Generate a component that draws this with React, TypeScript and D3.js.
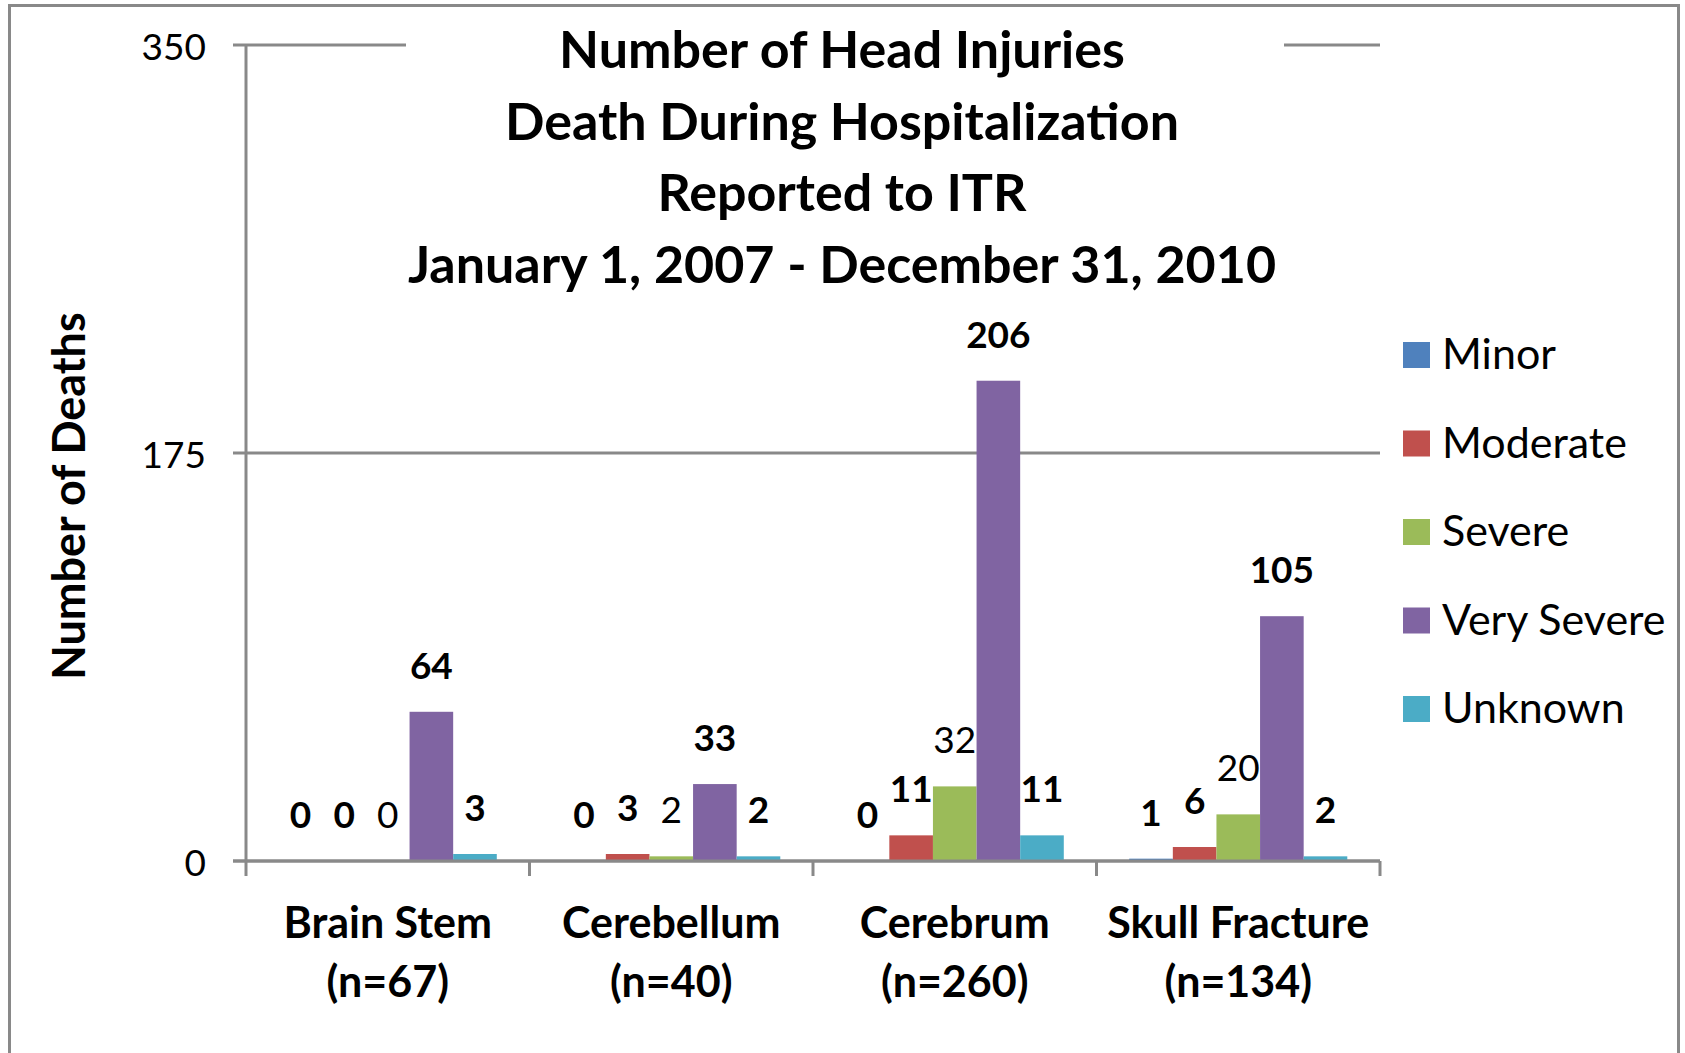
import React from 'react';
import { scaleBand, scaleLinear } from 'd3';

const width = 1685;
const height = 1053;

const categories = ['Brain Stem', 'Cerebellum', 'Cerebrum', 'Skull Fracture'];
const categoryCounts = ['(n=67)', '(n=40)', '(n=260)', '(n=134)'];
const seriesNames = ['Minor', 'Moderate', 'Severe', 'Very Severe', 'Unknown'];
const seriesColors = ['#4F81BD', '#C0504D', '#9BBB59', '#8064A2', '#4BACC6'];

// deaths per category, one array per severity
const minor = [0, 0, 0, 1];
const moderate = [0, 3, 11, 6];
const severe = [0, 2, 32, 20];
const verySevere = [64, 33, 206, 105];
const unknown = [3, 2, 11, 2];
const seriesValues = [minor, moderate, severe, verySevere, unknown];

const yTicks = [0, 175, 350];
const titleLines = [
  'Number of Head Injuries',
  'Death During Hospitalization',
  'Reported to ITR',
  'January 1, 2007 - December 31, 2010',
];

const left = 246;
const right = 1380;
const top = 45;
const bottom = 861;

const x0 = scaleBand().domain(categories).range([left, right]).padding(0);
const x1 = scaleBand()
  .domain(seriesNames)
  .range([0, x0.bandwidth()])
  .paddingInner(0)
  .paddingOuter(0.75);
const y = scaleLinear().domain([0, 350]).range([bottom, top]);

const gray = '#898989';
const font = 'Lato, "Open Sans", sans-serif';

const App = () => {
  return (
    <svg
      width={width}
      height={height}
      style={{ position: 'absolute', left: 0, top: 0, background: '#fff' }}
      fontFamily={font}
    >
      <rect x={9.5} y={5.5} width={1669} height={1100} fill="#fff" stroke={gray} strokeWidth={3} />

      {/* gridlines + y ticks */}
      {yTicks.map((t) => (
        <g key={t}>
          <line x1={left - 13} x2={right} y1={y(t)} y2={y(t)} stroke={gray} strokeWidth={3} />
          <text x={206} y={y(t)} textAnchor="end" dominantBaseline="central" fontSize={37} fill="#000">
            {t}
          </text>
        </g>
      ))}

      {/* title sits on a white box over the top gridline */}
      <rect x={406} y={12} width={878} height={285} fill="#fff" />
      {titleLines.map((line, i) => (
        <text key={i} x={842} y={68 + i * 71.7} textAnchor="middle" fontSize={52} fontWeight="bold" fill="#000">
          {line}
        </text>
      ))}

      {/* y axis */}
      <line x1={left} x2={left} y1={top} y2={bottom + 15} stroke={gray} strokeWidth={3} />
      {categories.map((c) => (
        <line key={c} x1={x0(c)! + x0.bandwidth()} x2={x0(c)! + x0.bandwidth()} y1={bottom} y2={bottom + 15} stroke={gray} strokeWidth={3} />
      ))}

      {/* bars */}
      {categories.map((c, ci) => (
        <g key={c} transform={`translate(${x0(c)}, 0)`}>
          {seriesNames.map((s, si) => {
            const v = seriesValues[si][ci];
            const bx = x1(s)!;
            return (
              <g key={s}>
                <rect x={bx} y={y(v)} width={x1.bandwidth()} height={bottom - y(v)} fill={seriesColors[si]} />
                <text
                  x={bx + x1.bandwidth() / 2}
                  y={y(v) - 33}
                  textAnchor="middle"
                  fontSize={37}
                  fontWeight={s === 'Severe' ? 'normal' : 'bold'}
                  fill="#000"
                >
                  {v}
                </text>
              </g>
            );
          })}
        </g>
      ))}

      {/* x axis line drawn over the bar bottoms */}
      <line x1={left - 13} x2={right} y1={bottom} y2={bottom} stroke={gray} strokeWidth={3} />

      {/* category labels */}
      {categories.map((c, i) => (
        <text key={c} x={x0(c)! + x0.bandwidth() / 2} textAnchor="middle" fontSize={43} fontWeight="bold" fill="#000">
          <tspan x={x0(c)! + x0.bandwidth() / 2} y={938}>{c}</tspan>
          <tspan x={x0(c)! + x0.bandwidth() / 2} y={997}>{categoryCounts[i]}</tspan>
        </text>
      ))}

      {/* y axis title */}
      <text transform="translate(85, 496) rotate(-90)" textAnchor="middle" fontSize={45} fontWeight="bold" fill="#000">
        Number of Deaths
      </text>

      {/* legend */}
      {seriesNames.map((s, i) => (
        <g key={s} transform={`translate(1403, ${355 + i * 88.5})`}>
          <rect x={0} y={-13} width={27} height={26} fill={seriesColors[i]} />
          <text x={39} y={14} fontSize={43} fill="#000">
            {s}
          </text>
        </g>
      ))}
    </svg>
  );
};

export default App;
